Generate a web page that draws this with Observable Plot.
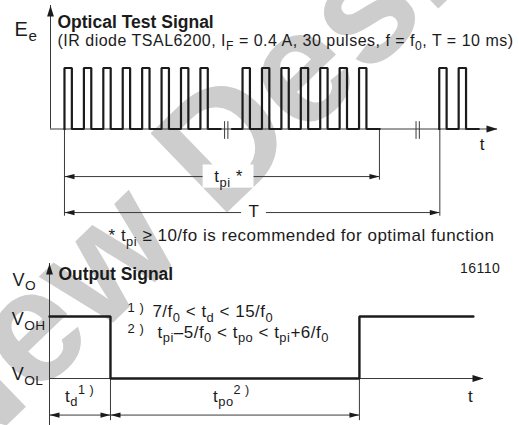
<!DOCTYPE html>
<html><head><meta charset="utf-8">
<script src="https://cdn.jsdelivr.net/npm/d3@7"></script>
<script src="https://cdn.jsdelivr.net/npm/@observablehq/plot@0.6"></script>
<style>
html,body{margin:0;padding:0;background:#fff;}
#chart{position:relative;width:519px;height:425px;overflow:hidden;}
#chart svg{display:block;position:absolute;left:0;}
</style></head><body><div id="chart"></div>
<script>
// ---------- Optical test signal (time in units of 1/f0, Ee normalised) ----------
const burst1Starts = [0, 1, 2, 3, 4, 5, 6, 7];
const burst2Starts = [9.17, 10.17, 11.17, 12.17, 13.17, 14.17, 15.17];
const burst3Starts = [19.3, 20.3];
const burstLowFrom = [0, 8.64, 19.3];
const burstLowTo = [8.03, 16.22, 21.32];
const pulseDuty = 0.38;
const topAxisT = [-0.72, 22.3];
const topAxisE = [0, 2.025];
const axisBreaks = [8.33, 18.19];
const breakSpan = [-0.17, 0.12];
const tpiSpan = [0, 16.22];
const periodSpan = [0, 19.33];

// ---------- Output signal (time in units of 1/f0, VOL = 0, VOH = 1) ----------
const outT = [0, 3.14, 3.14, 15.96, 15.96, 21.83];
const outV = [1, 1, 0, 0, 1, 1];
const botAxisT = [0, 22.35];
const botAxisV = [-0.76, 1.855];
const tdSpan = [0, 3.14];
const tpoSpan = [3.14, 15.96];

// ---------- texts (x, y give the text baseline) ----------
const topLabels = [
  {text: "E_{e}", x: -2.57, y: 1.533, size: 20},
  {text: "(IR diode TSAL6200, I_{F} = 0.4 A, 30 pulses, f = f_{0}, T = 10 ms)", x: -0.36, y: 1.369, size: 16},
  {text: "* t_{pi} \u2265 10/fo is recommended for optimal function", x: 2.27, y: -1.839, size: 17}
];
const topTitle = [{text: "Optical Test Signal", x: -0.36, y: 1.648}];
const topDimLabels = [
  {text: "t_{pi} *", x: 8.45, y: -0.877, hw: 1.31, hh: 0.19, cy: -0.78},
  {text: "T", x: 9.76, y: -1.451, hw: 0.64, hh: 0.21, cy: -1.36}
];
const topAxisLabel = [{text: "t", x: 21.52, y: -0.352}];
const watermark = [{text: "New Design", x: -5.87, y: -5.746}];

const botLabels = [
  {text: "V_{O}", x: -1.9, y: 1.5, size: 18},
  {text: "V_{OH}", x: -1.95, y: 0.855, size: 18},
  {text: "V_{OL}", x: -1.95, y: -0.032, size: 18},
  {text: "7/f_{0} < t_{d} < 15/f_{0}", x: 5.30, y: 0.984, size: 17},
  {text: "t_{pi}\u20135/f_{0} < t_{po} < t_{pi}+6/f_{0}", x: 5.56, y: 0.661, size: 17},
  {text: "t_{d}^{1 )}", x: 0.80, y: -0.371, size: 17},
  {text: "t_{po}^{2 )}", x: 8.42, y: -0.371, size: 17},
  {text: "1 )", x: 4.02, y: 1.065, size: 13},
  {text: "2 )", x: 4.02, y: 0.726, size: 13}
];
const botTitle = [{text: "Output Signal", x: 0.463, y: 1.581}];
const figNumber = [{text: "16110", x: 23.22, y: 1.694}];
const botAxisLabel = [{text: "t", x: 21.68, y: -0.387}];

// ---------- helpers ----------
const INK = "#1b1b1b", THIN = "#3a3a3a";
const FONT = "'Liberation Sans', Arial, Helvetica, sans-serif";
const dimHead = {draw(ctx, size) { const s = Math.sqrt(size / Math.PI) / 5;
  ctx.moveTo(0, 0); ctx.lineTo(-10 * s, -2.6 * s); ctx.lineTo(-10 * s, 2.6 * s); ctx.closePath(); }};
const axisHead = {draw(ctx, size) { const s = Math.sqrt(size / Math.PI) / 5;
  ctx.moveTo(0, 0); ctx.lineTo(-11 * s, -3.4 * s); ctx.lineTo(-11 * s, 3.4 * s); ctx.closePath(); }};

// pulse train polyline built from the burst arrays
const bursts = [burst1Starts, burst2Starts, burst3Starts];
const pulsePts = [];
bursts.forEach((starts, g) => {
  pulsePts.push({g, t: burstLowFrom[g], e: 0});
  starts.forEach(s => {
    pulsePts.push({g, t: s, e: 0}, {g, t: s, e: 1}, {g, t: s + pulseDuty, e: 1}, {g, t: s + pulseDuty, e: 0});
  });
  pulsePts.push({g, t: burstLowTo[g], e: 0});
});
const breakLines = axisBreaks.flatMap(b => [b - 0.085, b + 0.085]);
const topDims = [
  {x1: tpiSpan[0], x2: tpiSpan[1], y: -0.78},
  {x1: periodSpan[0], x2: periodSpan[1], y: -1.37}
];
const topExt = [
  {x: tpiSpan[0], y1: 0, y2: -1.43},
  {x: tpiSpan[1], y1: 0, y2: -0.84},
  {x: periodSpan[1], y1: 0, y2: -1.43}
];
const topHeads = topDims.flatMap(d => [{x: d.x1, y: d.y, r: 180}, {x: d.x2, y: d.y, r: 0}]);
const topAxisHeads = [{x: topAxisT[0], y: topAxisE[1], r: -90}, {x: topAxisT[1], y: 0, r: 0}];

const outPts = outT.map((t, i) => ({t, v: outV[i]}));
const botDims = [
  {x1: tdSpan[0], x2: tdSpan[1], y: -0.59},
  {x1: tpoSpan[0], x2: tpoSpan[1], y: -0.59}
];
const botExt = [
  {x: tdSpan[1], y1: 0, y2: -0.68},
  {x: tpoSpan[1], y1: 0, y2: -0.68}
];
const botHeads = botDims.flatMap(d => [{x: d.x1, y: d.y, r: 180}, {x: d.x2, y: d.y, r: 0}]);
const botAxisHeads = [{x: 0, y: botAxisV[1], r: -90}, {x: botAxisT[1], y: 0, r: 0}];

const txt = (data, o) => Plot.text(data, {x: "x", y: "y", text: "text", lineAnchor: "bottom", fill: INK, ...o});

// ---------- top plot ----------
const topPlot = Plot.plot({
  width: 519, height: 250,
  marginLeft: 50, marginRight: 22, marginTop: 5, marginBottom: 121.5,
  x: {domain: topAxisT, axis: null},
  y: {domain: topAxisE, axis: null},
  style: {background: "transparent", overflow: "visible", fontFamily: FONT, color: INK},
  marks: [
    txt(watermark, {rotate: -44, fontSize: 160, fontWeight: "bold", fill: "#cdcdcd", textAnchor: "start"}),
    Plot.ruleY([0], {x1: topAxisT[0], x2: topAxisT[1], stroke: THIN, strokeWidth: 1}),
    Plot.ruleX([topAxisT[0]], {y1: 0, y2: topAxisE[1], stroke: THIN, strokeWidth: 1}),
    Plot.ruleX(breakLines, {y1: breakSpan[0], y2: breakSpan[1], stroke: THIN, strokeWidth: 1}),
    Plot.ruleX(topExt, {x: "x", y1: "y1", y2: "y2", stroke: THIN, strokeWidth: 1}),
    Plot.ruleY(topDims, {y: "y", x1: "x1", x2: "x2", stroke: THIN, strokeWidth: 1}),
    Plot.line(pulsePts, {x: "t", y: "e", z: "g", stroke: INK, strokeWidth: 2.2, strokeLinejoin: "miter", strokeLinecap: "square"}),
    Plot.dot(topHeads, {x: "x", y: "y", rotate: "r", symbol: dimHead, r: 5, fill: INK, stroke: null}),
    Plot.dot(topAxisHeads, {x: "x", y: "y", rotate: "r", symbol: axisHead, r: 5, fill: INK, stroke: null}),
    Plot.rect(topDimLabels, {x1: d => d.x - d.hw, x2: d => d.x + d.hw, y1: d => d.cy - d.hh, y2: d => d.cy + d.hh, fill: "white"}),
    txt(topDimLabels, {fontSize: 17, textAnchor: "middle"}),
    txt(topLabels, {fontSize: "size", textAnchor: "start"}),
    txt(topTitle, {fontSize: 17.5, fontWeight: "bold", textAnchor: "start"}),
    txt(topAxisLabel, {fontSize: 17, textAnchor: "middle"})
  ]
});

// ---------- bottom plot ----------
const bottomPlot = Plot.plot({
  width: 519, height: 175,
  marginLeft: 49, marginRight: 36, marginTop: 13, marginBottom: 47,
  x: {domain: botAxisT, axis: null},
  y: {domain: [0, botAxisV[1]], axis: null},
  style: {background: "transparent", overflow: "visible", fontFamily: FONT, color: INK},
  marks: [
    Plot.ruleY([0], {x1: botAxisT[0], x2: botAxisT[1], stroke: THIN, strokeWidth: 1}),
    Plot.ruleX([0], {y1: botAxisV[0], y2: botAxisV[1], stroke: THIN, strokeWidth: 1}),
    Plot.ruleX(botExt, {x: "x", y1: "y1", y2: "y2", stroke: THIN, strokeWidth: 1}),
    Plot.ruleY(botDims, {y: "y", x1: "x1", x2: "x2", stroke: THIN, strokeWidth: 1}),
    Plot.line(outPts, {x: "t", y: "v", stroke: INK, strokeWidth: 2.4, strokeLinejoin: "miter"}),
    Plot.dot(botHeads, {x: "x", y: "y", rotate: "r", symbol: dimHead, r: 5, fill: INK, stroke: null}),
    Plot.dot(botAxisHeads, {x: "x", y: "y", rotate: "r", symbol: axisHead, r: 5, fill: INK, stroke: null}),
    txt(botLabels, {fontSize: "size", textAnchor: "start"}),
    txt(botTitle, {fontSize: 17.5, fontWeight: "bold", textAnchor: "start"}),
    txt(figNumber, {fontSize: 14, textAnchor: "end"}),
    txt(botAxisLabel, {fontSize: 17, textAnchor: "middle"})
  ]
});

const chart = document.getElementById("chart");
topPlot.style.top = "0px";
bottomPlot.style.top = "250px";
chart.appendChild(topPlot);
chart.appendChild(bottomPlot);

// sub/superscript markup -> tspans; slightly wider tracking for regular text
function richText(svg) {
  svg.querySelectorAll("text").forEach(el => {
    const cs = getComputedStyle(el);
    const F = parseFloat(cs.fontSize);
    if (F < 40 && parseInt(cs.fontWeight) < 600) el.setAttribute("letter-spacing", "0.5");
    const s = el.textContent;
    if (!/[_^]\{/.test(s)) return;
    const parts = s.split(/(_\{[^}]*\}|\^\{[^}]*\})/).filter(p => p !== "");
    el.textContent = "";
    let cur = 0;
    for (const p of parts) {
      let t = p, off = 0, size = null;
      if (p.startsWith("_{")) { t = p.slice(2, -1); off = 0.27 * F; size = 0.76 * F; }
      else if (p.startsWith("^{")) { t = p.slice(2, -1); off = -0.42 * F; size = 0.74 * F; }
      const ts = document.createElementNS("http://www.w3.org/2000/svg", "tspan");
      ts.textContent = t;
      if (off - cur !== 0) ts.setAttribute("dy", (off - cur).toFixed(2));
      if (size) ts.setAttribute("font-size", size.toFixed(2));
      cur = off;
      el.appendChild(ts);
    }
  });
}
richText(topPlot);
richText(bottomPlot);
</script></body></html>
